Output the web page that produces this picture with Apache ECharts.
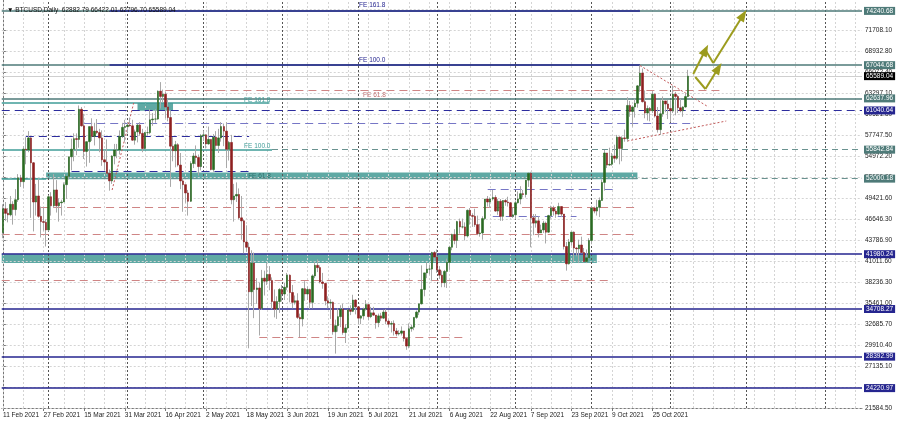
<!DOCTYPE html>
<html><head><meta charset="utf-8">
<script src="https://cdn.jsdelivr.net/npm/echarts@6/dist/echarts.min.js"></script>
<style>html,body{margin:0;padding:0;background:#fff}#c{width:900px;height:423px}</style>
</head><body><div id="c"></div>
<script>
// ---- DATA: daily candles [open, high, low, close] ----
const feb = [[44850,48600,44100,48000],[48000,48900,46400,47400],[47400,48100,46200,47200],[47200,49700,47000,48600],[48600,49000,45900,47900],[47900,50600,47100,49200],[49200,52600,48900,52100],[52100,52500,50900,51600],[51600,56300,50700,55900],[55900,57500,53900,55800],[55800,58300,55500,57400],[57400,57500,46800,54100],[54100,54200,45000,48900],[48900,51300,47100,49700],[49700,52000,46800,47000],[47000,48300,44200,46300],[46300,48200,45100,46200],[46200,46600,43000,45200]];
const mar = [[45200,49800,45000,49600],[49600,50200,47100,48400],[48400,52600,48100,50500],[50500,51800,47500,48400],[48400,49400,46300,48800],[48800,49200,47100,48900],[48900,51500,48900,51200],[51200,52400,49300,52300],[52300,54900,51900,54900],[54900,57300,53100,55900],[55900,58000,54300,57300],[57300,58000,55100,57200],[57200,61700,56100,61200],[61200,61500,58900,59000],[59000,60600,54600,55600],[55600,56900,53600,56900],[56900,58900,54100,58900],[58900,60000,57000,57600],[57600,59400,56400,58300],[58300,59900,57900,58100],[58100,58600,55500,57400],[57400,58400,53700,54500],[54500,55800,53100,54200],[54200,57200,52500,52700],[52700,53200,50400,51700],[51700,55100,51300,55000],[55000,56600,53900,55800],[55800,56600,54700,55800],[55800,58400,55200,57600],[57600,59400,57400,58800],[58800,59800,56900,58900]];
const apr = [[58900,59500,58000,59100],[59100,60100,58900,59000],[59000,59800,57000,57100],[57100,58500,56500,58200],[58200,59300,56800,59100],[59100,59500,57700,58000],[58000,58600,55500,56000],[56000,58200,55900,58100],[58100,58900,57700,58100],[58100,61200,57900,59800],[59800,60700,59000,59900],[59900,61200,59400,59900],[59900,63700,59800,63600],[63600,64800,61300,62900],[62900,63800,62100,63200],[63200,63500,60000,61500],[61500,62500,59600,60100],[60100,61000,50900,56300],[56300,57500,54300,55700],[55700,57000,53500,56500],[56500,56700,53600,53800],[53800,55400,50600,51700],[51700,52100,47600,51200],[51200,51200,48800,50100],[50100,50500,47100,49000],[49000,54300,48900,54000],[54000,55400,53400,55000],[55000,56400,53900,54800],[54800,55200,52400,53600],[53600,57900,53100,57700]];
const may = [[57700,58400,57000,57800],[57800,57900,56000,56600],[56600,58900,56500,57200],[57200,57200,53100,53200],[53200,57900,52900,57500],[57500,58300,55900,56400],[56400,58600,55400,57400],[57400,59500,56900,58900],[58900,59300,56300,58300],[58300,59500,53400,55900],[55900,57000,54400,56800],[56800,57800,48600,49200],[49200,51300,46300,49700],[49700,51500,48900,49900],[49900,50700,46600,46800],[46800,49700,43900,46400],[46400,46600,42100,43600],[43600,45800,42300,42900],[42900,43500,29500,37000],[37000,42500,35100,40800],[40800,42200,33500,37300],[37300,38800,35400,37500],[37500,38200,31200,34800],[34800,39900,34600,38800],[38800,39800,36500,38400],[38400,40800,37900,39300],[39300,40400,37200,38500],[38500,38900,34700,35700],[35700,37300,33600,34700],[34700,36400,33400,35700],[35700,37500,34200,37300]];
const jun = [[37300,37900,35700,36700],[36700,38200,35900,37600],[37600,39500,37200,39200],[39200,39300,35600,36900],[36900,37900,34800,35600],[35600,36500,35300,35800],[35800,36800,33400,33600],[33600,34100,31000,33400],[33400,37500,32400,37400],[37400,38400,35800,36700],[36700,37700,35900,37300],[37300,37400,34700,35600],[35600,39300,34800,39100],[39100,41000,38800,40500],[40500,41300,39600,40200],[40200,40500,38100,38300],[38300,39500,37400,38100],[38100,38200,35200,35800],[35800,36400,34800,35500],[35500,36000,33400,35600],[35600,35700,31300,31700],[31700,33300,28800,32500],[32500,34800,31700,33700],[33700,35200,32300,34700],[34700,35400,31300,31600],[31600,32700,30200,32200],[32200,34700,32000,34600],[34600,35200,33900,34400],[34400,36600,34300,35900],[35900,36000,34000,35000]];
const jul = [[35000,35000,32700,33500],[33500,33900,32700,33800],[33800,34900,33300,34700],[34700,35900,34500,35300],[35300,35300,33200,33700],[33700,35000,33500,34200],[34200,35000,33800,33900],[33900,33900,32100,32900],[32900,34100,32300,33800],[33800,34200,33100,33500],[33500,34600,33400,34300],[34300,34700,32700,33100],[33100,33300,32300,32700],[32700,33100,31600,32800],[32800,33200,31200,31800],[31800,32200,31100,31400],[31400,31900,31200,31500],[31500,32400,31200,31800],[31800,31800,30400,30800],[30800,31000,29300,29800],[29800,32800,29500,32100],[32100,32600,31700,32300],[32300,33600,31900,33600],[33600,34500,33400,34300],[34300,35400,33900,35400],[35400,40500,35300,37300],[37300,39500,36400,39500],[39500,40900,38800,40000],[40000,40600,39300,40000],[40000,42300,38400,42200],[42200,42400,41100,41600]];
const aug = [[41600,42600,39500,39900],[39900,40400,38700,39200],[39200,39800,37600,38200],[38200,39900,37600,39700],[39700,41400,37500,40900],[40900,43100,39900,42900],[42900,44700,42500,44600],[44600,45300,43300,43800],[43800,46400,42800,46300],[46300,46700,44700,45600],[45600,46700,45400,45600],[45600,46200,43800,44400],[44400,47900,44200,47800],[47800,48100,45900,47100],[47100,47400,45600,47000],[47000,48000,45600,45900],[45900,47100,44500,44700],[44700,46000,44300,44800],[44800,47000,43900,46700],[46700,49300,46500,49300],[49300,49700,48300,48900],[48900,49500,48100,49300],[49300,50500,49100,49500],[49500,49800,47600,47700],[47700,49300,47200,49000],[49000,49300,46400,47000],[47000,49100,46400,49100],[49100,49300,48400,48900],[48900,49600,48300,48800],[48800,48900,46900,47000],[47000,48200,46800,47200]];
const sep = [[47200,49100,46600,48800],[48800,50300,48700,49300],[49300,51000,48600,50000],[50000,50500,49500,49900],[49900,51800,49500,51800],[51800,52800,50900,52700],[52700,52900,42900,46800],[46800,47300,44500,46100],[46100,47300,45500,46400],[46400,47000,44200,44800],[44800,45900,44800,45200],[45200,46400,44800,46100],[46100,46300,43400,44900],[44900,47200,44800,47100],[47100,48400,46700,48100],[48100,48400,47100,47700],[47700,48000,46800,47300],[47300,48800,47100,48300],[48300,48300,46900,47300],[47300,47300,42600,43000],[43000,43600,39800,40700],[40700,44000,40600,43600],[43600,44900,43100,44900],[44900,45000,40900,42800],[42800,42900,41700,42700],[42700,43900,40800,43200],[43200,44300,42100,42200],[42200,42800,40900,41000],[41000,42600,40800,41500],[41500,44100,41400,43800]];
const oct = [[43800,48400,43300,48100],[48100,48300,47400,47700],[47700,49200,47100,48200],[48200,49500,46900,49100],[49100,51900,49100,51500],[51500,55800,50400,55400],[55400,55400,53400,53800],[53800,56100,53700,53900],[53900,55400,53700,55000],[55000,56500,54100,54700],[54700,57800,54500,57500],[57500,57600,53900,56000],[56000,57600,54300,57400],[57400,58500,56900,57300],[57300,62800,56900,61700],[61700,62300,60200,60900],[60900,61700,58900,61500],[61500,62600,60100,62000],[62000,64400,61400,64300],[64300,67000,63500,66000],[66000,66600,62100,62200],[62200,63700,60000,60700],[60700,61700,59700,61300],[61300,61500,59600,61000],[61000,63600,60700,63200],[63200,63300,60100,60300],[60300,61500,58100,58500],[58500,62400,57800,60600],[60600,62900,60200,62300],[62300,62300,60800,61900],[61900,62400,59900,61300]];
const nov = [[61300,62400,59500,61000],[61000,64300,60700,63200],[63200,63500,60400,62900],[62900,63100,60700,61400],[61400,62600,60800,61000],[61000,61600,60200,61500],[61500,63300,61400,62883],[62882.79,66422.01,62796.70,65589.04]];

const startDate = Date.UTC(2021, 1, 11);
const totalSlots = 339;           // bars + empty right shift
const monthNames = ['Jan','Feb','Mar','Apr','May','Jun','Jul','Aug','Sep','Oct','Nov','Dec'];
const yTicks = [71708.10,68932.80,66072.40,63297.10,60521.80,57747.50,54972.20,52196.90,49421.60,46646.30,43786.90,41011.60,38236.30,35461.00,32685.70,29910.40,27135.10,24359.80,21584.50];
const gridLevels = [74483.40].concat(yTicks);
const monthStarts = [18,49,79,110,140,171,202,232,263,293,324];
const bidPrice = 65589.04;

// labelled horizontal levels [price, style]
const boxLevels = [[74240.68,'gt'],[67044.68,'gt'],[62637.96,'gt'],[61040.64,'navyd'],[52000.18,'gtd'],[41980.24,'navy'],[34708.27,'navy'],[28392.99,'navy'],[24220.97,'navy']];
// partial segments [fromBar, toBar, price, style]
const segments = [
  [42,251,74240.68,'navy'],[42,251,67044.68,'navy'],
  [64,283,63751,'redd'],[-0.5,105,62028,'teal'],
  [32,272,59336,'blued'],[9,97,57558,'navyd'],
  [-0.5,106,55842.84,'teal'],[27,97,52918,'navyd'],[-0.5,17,52000,'teal'],
  [191,241,50624,'blued'],[15,250,48170,'redd'],[193,226,47043,'blued'],
  [-0.5,250,44656,'redd'],[-0.5,239,38556,'redd'],[101,182,30997,'redd']
];
const segment55842 = [106, 338.5, 55842.84];
// shaded zones [fromBar, toBar, lowPrice, highPrice]
const zones = [[53,67,61006,62028],[17,250,51920,52800],[-0.5,234,40800,41980]];
// dotted trend lines [bar1, price1, bar2, price2]
const trendLines = [[251,67000,278,61500],[246,56990,285,59640],[43,50490,51.5,62030]];
// projected path arrows [bar1, price1, bar2, price2, arrowAtEnd]
const arrows = [[272.0,65873,276.8,69056,1],[276.8,69056,279.9,67332,0],[279.9,67332,291.7,73697,1],[272.8,65476,276.8,63884,0],[276.8,63884,281.9,66669,1]];
// Fibo labels [bar, price, text, style]
const feLabels = [[140.3,75050,'FE 161.8','navy'],[140.3,67760,'FE 100.0','navy'],[141.9,63100,'FE 61.8','redt'],[95,62450,'FE 161.8','teal'],[95,56280,'FE 100.0','teal'],[96.6,52360,'FE 61.8','tealt']];

// ---- BUILD ----
const candles = [].concat(feb, mar, apr, may, jun, jul, aug, sep, oct, nov);
const categories = [];
for (let i = 0; i < totalSlots; i++) {
  const d = new Date(startDate + i * 86400000);
  categories.push(d.getUTCDate() + ' ' + monthNames[d.getUTCMonth()] + ' ' + d.getUTCFullYear());
}
const lastBar = candles.length - 1;
const wickData = candles.map(c => [c[0], c[3], c[2], c[1]]);
const bodyData = candles.map(c => [c[0], c[3], Math.min(c[0], c[3]), Math.max(c[0], c[3])]);

const F = 'Liberation Sans';
const FS = 6.5;
const styles = {
  gt:{color:'#4e7a78',width:1.5,type:'solid'},
  gtd:{color:'#6a9290',width:1,type:[6,4]},
  teal:{color:'#3f9c97',width:1.5,type:'solid'},
  navy:{color:'#25258f',width:1.5,type:'solid'},
  navyd:{color:'#2d2d9e',width:1,type:[8,5]},
  blued:{color:'#7676c6',width:1,type:[8,5]},
  redd:{color:'#cf8585',width:1,type:[8,5]}
};
const boxBg = {gt:'#4e7a78',gtd:'#4e7a78',navy:'#25258f',navyd:'#25258f'};
function boxLabel(text, bg){
  return {show:true,position:'end',distance:2,formatter:text,backgroundColor:bg,color:'#fff',
    fontSize:FS,fontFamily:F,padding:[1,2,0,2]};
}
const lineData = [];
boxLevels.forEach(b => lineData.push({yAxis:b[0], lineStyle:styles[b[1]], label:boxLabel(b[0].toFixed(2), boxBg[b[1]])}));
segments.forEach(s => lineData.push([{coord:[s[0],s[2]], lineStyle:styles[s[3]], label:{show:false}},{coord:[s[1],s[2]]}]));
lineData.push([{coord:[segment55842[0],segment55842[2]], lineStyle:styles.gtd, label:boxLabel(segment55842[2].toFixed(2),'#4e7a78')},{coord:[segment55842[1],segment55842[2]]}]);
lineData.push({yAxis:bidPrice, lineStyle:{color:'#cfcfcf',width:1,type:'solid'}, label:boxLabel(bidPrice.toFixed(2),'#000')});

const gridData = [];
gridLevels.forEach(v => gridData.push({yAxis:v}));
for (let i = 0; i < totalSlots; i += 8) gridData.push({xAxis:i});
const sepData = monthStarts.map(i => ({xAxis:i}));

const trendData = trendLines.map(t => [{coord:[t[0],t[1]]},{coord:[t[2],t[3]]}]);
const arrowData = arrows.map(a => [{coord:[a[0],a[1]],symbol:'none'},{coord:[a[2],a[3]],symbol:a[4]?'triangle':'none'}]);
const feColors = {navy:'#25258f',redt:'#c07070',teal:'#3f9c97',tealt:'#2f6f6c'};
const feData = feLabels.map(f => ({coord:[f[0],f[1]],name:f[2],label:{color:feColors[f[3]]}}));
const zoneData = zones.map(z => [{coord:[z[0],z[2]]},{coord:[z[1],z[3]]}]);

const labelIdx = (i) => i % 16 === 0 && i <= lastBar;
const last = candles[lastBar];

const chart = echarts.init(document.getElementById('c'), null, {renderer:'canvas'});
chart.setOption({
  animation:false,
  backgroundColor:'#ffffff',
  title:{text:'\u25BC BTCUSD,Daily  ' + last[0].toFixed(2) + ' ' + last[1].toFixed(2) + ' ' + last[2].toFixed(2) + ' ' + last[3].toFixed(2),
    left:2, top:2, textStyle:{fontSize:FS, fontFamily:F, color:'#111', fontWeight:'normal'}},
  grid:{left:0, right:38, top:0, bottom:15, containLabel:false},
  xAxis:[
    {type:'category', data:categories, boundaryGap:true,
      axisLine:{show:true,lineStyle:{color:'#777',width:1}},
      axisTick:{show:true,alignWithLabel:true,interval:labelIdx,length:3,lineStyle:{color:'#777'}},
      axisLabel:{interval:labelIdx,align:'left',fontSize:FS,fontFamily:F,color:'#222',margin:4},
      splitLine:{show:false}},
    {type:'value', min:-0.5, max:totalSlots-0.5, show:false}
  ],
  yAxis:[{type:'value', position:'right', min:21584.5, max:75686.2, scale:true,
    axisLine:{show:true,lineStyle:{color:'#777',width:1}},
    axisTick:{show:true,length:3,customValues:yTicks,lineStyle:{color:'#777'}},
    axisLabel:{customValues:yTicks,formatter:v=>v.toFixed(2),fontSize:FS,fontFamily:F,color:'#222',margin:3},
    splitLine:{show:false}}],
  series:[
    {type:'line', xAxisIndex:1, data:[], z:1, silent:true,
      markLine:{silent:true, symbol:['none','none'], animation:false, label:{show:false},
        lineStyle:{color:'#d4d4d4',width:1,type:[2,2]}, data:gridData}},
    {type:'line', xAxisIndex:1, data:[], z:1, silent:true,
      markLine:{silent:true, symbol:['none','none'], animation:false, label:{show:false},
        lineStyle:{color:'#555',width:1,type:[2,2]}, data:sepData}},
    {type:'line', xAxisIndex:1, data:[], z:2, silent:true,
      markArea:{silent:true, itemStyle:{color:'#5fa9a4'}, data:zoneData}},
    {type:'line', xAxisIndex:1, data:[], z:5, silent:true, clip:false,
      markLine:{silent:true, symbol:['none','none'], animation:false, data:lineData}},
    {type:'candlestick', name:'wick', data:wickData, barWidth:1, z:6, silent:true,
      itemStyle:{color:'#a9a9a9',color0:'#a9a9a9',borderColor:'#a9a9a9',borderColor0:'#a9a9a9',borderWidth:1}},
    {type:'candlestick', name:'body', data:bodyData, barWidth:2, z:7, silent:true,
      itemStyle:{color:'#2a6a22',color0:'#8e2020',borderColor:'#2a6a22',borderColor0:'#8e2020',borderWidth:0.6}},
    {type:'line', xAxisIndex:1, data:[], z:8, silent:true,
      markLine:{silent:true, symbol:['none','none'], animation:false, label:{show:false},
        lineStyle:{color:'#c25a5a',width:1,type:[2,2]}, data:trendData}},
    {type:'line', xAxisIndex:1, data:[], z:9, silent:true,
      markLine:{silent:true, symbolSize:[9,12], animation:false, label:{show:false},
        lineStyle:{color:'#9c9c1e',width:2,type:'solid'}, itemStyle:{color:'#9c9c1e'}, data:arrowData}},
    {type:'line', xAxisIndex:1, data:[], z:9, silent:true,
      markPoint:{silent:true, symbol:'circle', symbolSize:0, animation:false,
        label:{show:true, position:'right', distance:0, formatter:'{b}', fontSize:FS, fontFamily:F}, data:feData}}
  ]
});
</script></body></html>
